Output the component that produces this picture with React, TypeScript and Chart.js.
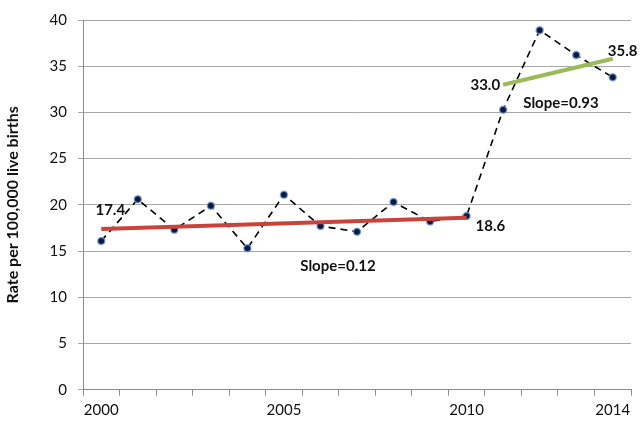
import React, { useRef, useEffect } from "react"
import { Chart, registerables, Plugin } from "chart.js"

Chart.register(...registerables)

const years = [
  "2000", "2001", "2002", "2003", "2004", "2005", "2006", "2007",
  "2008", "2009", "2010", "2011", "2012", "2013", "2014",
]
const rates = [16.1, 20.6, 17.3, 19.9, 15.3, 21.1, 17.7, 17.1, 20.3, 18.2, 18.8, 30.3, 38.9, 36.2, 33.8]
const shownYears = ["2000", "2005", "2010", "2014"]
const trendBefore = [17.4, null, null, null, null, null, null, null, null, null, 18.6, null, null, null, null]
const trendAfter = [null, null, null, null, null, null, null, null, null, null, null, 33.0, null, null, 35.8]
const slopeBefore = "Slope=0.12"
const slopeAfter = "Slope=0.93"

const FONT = "Lato, 'Open Sans', sans-serif"

const firstIdx = (arr: (number | null)[]) => arr.findIndex((v) => v !== null)
const lastIdx = (arr: (number | null)[]) => {
  for (let i = arr.length - 1; i >= 0; i--) if (arr[i] !== null) return i
  return -1
}

// labels next to the trend lines
const trendLabels: Plugin = {
  id: "trendLabels",
  afterDatasetsDraw(chart) {
    const ctx = chart.ctx
    ctx.save()
    ctx.font = `bold 15px ${FONT}`
    ctx.fillStyle = "#111"
    ctx.textBaseline = "middle"

    const put = (text: string, x: number, y: number, align: CanvasTextAlign) => {
      ctx.textAlign = align
      ctx.fillText(text, x, y)
    }

    const draw = (dsIndex: number, arr: (number | null)[], slope: string, spec: any) => {
      const pts = chart.getDatasetMeta(dsIndex).data
      const a = pts[firstIdx(arr)]
      const b = pts[lastIdx(arr)]
      const va = arr[firstIdx(arr)] as number
      const vb = arr[lastIdx(arr)] as number
      put(va.toFixed(1), a.x + spec.start[0], a.y + spec.start[1], spec.start[2])
      put(vb.toFixed(1), b.x + spec.end[0], b.y + spec.end[1], spec.end[2])
      put(slope, (a.x + b.x) / 2 + spec.slope[0], (a.y + b.y) / 2 + spec.slope[1], "center")
    }

    draw(1, trendBefore, slopeBefore, {
      start: [9, -19, "center"],
      end: [9, 8, "left"],
      slope: [54, 43],
    })
    draw(2, trendAfter, slopeAfter, {
      start: [-3, 0, "right"],
      end: [-5, -8, "left"],
      slope: [3, 31],
    })
    ctx.restore()
  },
}

const RateChart: React.FC = () => {
  const chartRef = useRef<HTMLCanvasElement>(null)

  useEffect(() => {
    if (!chartRef.current) return
    Chart.defaults.font.family = FONT
    const chart = new Chart(chartRef.current.getContext("2d")!, {
      type: "line",
      data: {
        labels: years,
        datasets: [
          {
            data: rates,
            borderColor: "#000",
            borderWidth: 1.6,
            borderDash: [7, 5],
            pointRadius: 3.5,
            pointBackgroundColor: "#0c1a3a",
            pointBorderColor: "rgba(110,150,215,0.75)",
            pointBorderWidth: 1.5,
            fill: false,
            tension: 0,
            order: 2,
          },
          {
            data: trendBefore,
            borderColor: "#c9433d",
            borderWidth: 4,
            pointRadius: 0,
            spanGaps: true,
            fill: false,
            order: 1,
          },
          {
            data: trendAfter,
            borderColor: "#9bbb59",
            borderWidth: 4,
            pointRadius: 0,
            spanGaps: true,
            fill: false,
            order: 1,
          },
        ],
      },
      options: {
        animation: false,
        responsive: false,
        devicePixelRatio: 1,
        layout: { padding: { top: 12, right: 9, left: 0, bottom: 0 } },
        plugins: {
          legend: { display: false },
          tooltip: { enabled: false },
        },
        scales: {
          x: {
            type: "category",
            offset: true,
            grid: {
              offset: true,
              drawOnChartArea: false,
              drawTicks: true,
              tickLength: 6,
              color: "#8c8c8c",
            },
            border: { color: "#8c8c8c" },
            ticks: {
              autoSkip: false,
              maxRotation: 0,
              padding: 5,
              color: "#111",
              font: { size: 15 },
              callback: function (_v, i) {
                const y = years[i as number]
                return shownYears.includes(y) ? y : ""
              },
            },
            afterFit: (scale) => {
              scale.height = 34.3
            },
          },
          y: {
            min: 0,
            max: 40,
            ticks: {
              stepSize: 5,
              padding: 11,
              color: "#111",
              font: { size: 15 },
            },
            grid: {
              color: "#a8a8a8",
              tickLength: 5,
            },
            border: { color: "#8c8c8c" },
            title: {
              display: true,
              text: "Rate per 100,000 live births",
              color: "#111",
              font: { size: 16, weight: "bold" },
              padding: { top: 3, bottom: 0 },
            },
            afterFit: (scale) => {
              scale.width = 83
            },
          },
        },
      },
      plugins: [trendLabels],
    })
    return () => {
      chart.destroy()
    }
  }, [])

  return (
    <div style={{ position: "fixed", left: 0, top: 0, width: 640, height: 424, background: "#fff" }}>
      <canvas ref={chartRef} width={640} height={424} />
    </div>
  )
}

export default function App() {
  return <RateChart />
}
